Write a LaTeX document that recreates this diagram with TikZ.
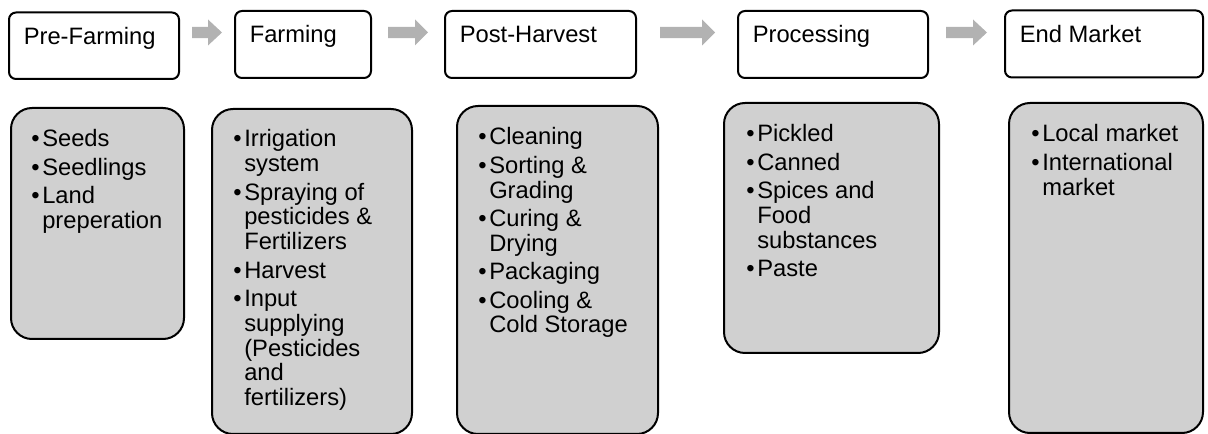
\documentclass[tikz,border=0pt]{standalone}
\usepackage{fontspec}
\setmainfont{Liberation Sans}
\usetikzlibrary{calc}

% one unit = one pixel of the 1208 x 434 layout
\newdimen\px \px=0.75pt

\definecolor{boxgray}{RGB}{208,208,208}
\definecolor{arrowgray}{RGB}{178,178,178}

% bullet list set in a top-aligned parbox so its baseline is the first line;
% \\ breaks a line inside an item and keeps the hanging indent
\newcommand\bitem[1]{\par\hangindent=11\px\hangafter=1\noindent\makebox[11\px][l]{\textbullet}#1}
\newcommand\blist[1]{\parbox[t]{260\px}{\setlength\parskip{3.6\px}%
  \fontsize{17.8pt}{18.6pt}\selectfont #1}}

% gray block arrow: start x, head base x, tip x
\newcommand\blockarrow[3]{%
  \fill[arrowgray] (#1,26.8) -- (#2,26.8) -- (#2,19.5) -- (#3,32.5)
    -- (#2,45.5) -- (#2,38.2) -- (#1,38.2) -- cycle;}

\tikzset{
  stagebox/.style={draw=black, line width=1.5pt, fill=white, rounded corners=5.25pt,
    anchor=north west, inner sep=0pt},
  listbox/.style={draw=black, line width=1.5pt, fill=boxgray, rounded corners=15.75pt,
    anchor=north west, inner sep=0pt},
  stagetext/.style={anchor=base west, inner sep=0pt, font=\fontsize{17.8pt}{18.6pt}\selectfont},
  listtext/.style={anchor=base west, inner sep=0pt},
}

\begin{document}
\begin{tikzpicture}[x=0.75pt, y=-0.75pt]
\useasboundingbox (0,0) rectangle (1208,434);

% stage headers
\node[stagebox, minimum width=170\px, minimum height=66.5\px] (b1) at (8,11.5) {};
\node[stagebox, minimum width=136\px, minimum height=67\px] (b2) at (234,10) {};
\node[stagebox, minimum width=191\px, minimum height=67\px] (b3) at (444,10) {};
\node[stagebox, minimum width=190\px, minimum height=67\px] (b4) at (737,10) {};
\node[stagebox, minimum width=198\px, minimum height=67\px] (b5) at (1004,9.5) {};

\node[stagetext] (t1) at ($(b1.north west)+(15.5,33)$) {Pre-Farming};
\node[stagetext] (t2) at ($(b2.north west)+(15.5,33)$) {Farming};
\node[stagetext] (t3) at ($(b3.north west)+(15.5,33)$) {Post-Harvest};
\node[stagetext] (t4) at ($(b4.north west)+(15.5,33)$) {Processing};
\node[stagetext] (t5) at ($(b5.north west)+(15.5,33)$) {End Market};

% arrows between the stages
\blockarrow{192}{208}{222}
\blockarrow{388}{415}{428}
\blockarrow{660}{702}{715}
\blockarrow{946}{973}{987}

% activity boxes
\node[listbox, minimum width=173\px, minimum height=231\px] (c1) at (10,107) {};
\node[listbox, minimum width=200\px, minimum height=325\px] (c2) at (211,108) {};
\node[listbox, minimum width=201\px, minimum height=328\px] (c3) at (456,105) {};
\node[listbox, minimum width=215\px, minimum height=250\px] (c4) at (723,102) {};
\node[listbox, minimum width=194\px, minimum height=330\px] (c5) at (1008,102) {};

\node[listtext] (l1) at ($(c1.north west)+(21,40)$) {\blist{%
  \bitem{Seeds}
  \bitem{Seedlings}
  \bitem{Land\\preperation}}};
\node[listtext] (l2) at ($(c2.north west)+(22,39)$) {\blist{%
  \bitem{Irrigation\\system}
  \bitem{Spraying of\\pesticides \&\\Fertilizers}
  \bitem{Harvest}
  \bitem{Input\\supplying\\(Pesticides\\and\\fertilizers)}}};
\node[listtext] (l3) at ($(c3.north west)+(22,40)$) {\blist{%
  \bitem{Cleaning}
  \bitem{Sorting \&\\Grading}
  \bitem{Curing \&\\Drying}
  \bitem{Packaging}
  \bitem{Cooling \&\\Cold Storage}}};
\node[listtext] (l4) at ($(c4.north west)+(23,40)$) {\blist{%
  \bitem{Pickled}
  \bitem{Canned}
  \bitem{Spices and\\Food\\substances}
  \bitem{Paste}}};
\node[listtext] (l5) at ($(c5.north west)+(23,40)$) {\blist{%
  \bitem{Local market}
  \bitem{International\\market}}};
\end{tikzpicture}
\end{document}
